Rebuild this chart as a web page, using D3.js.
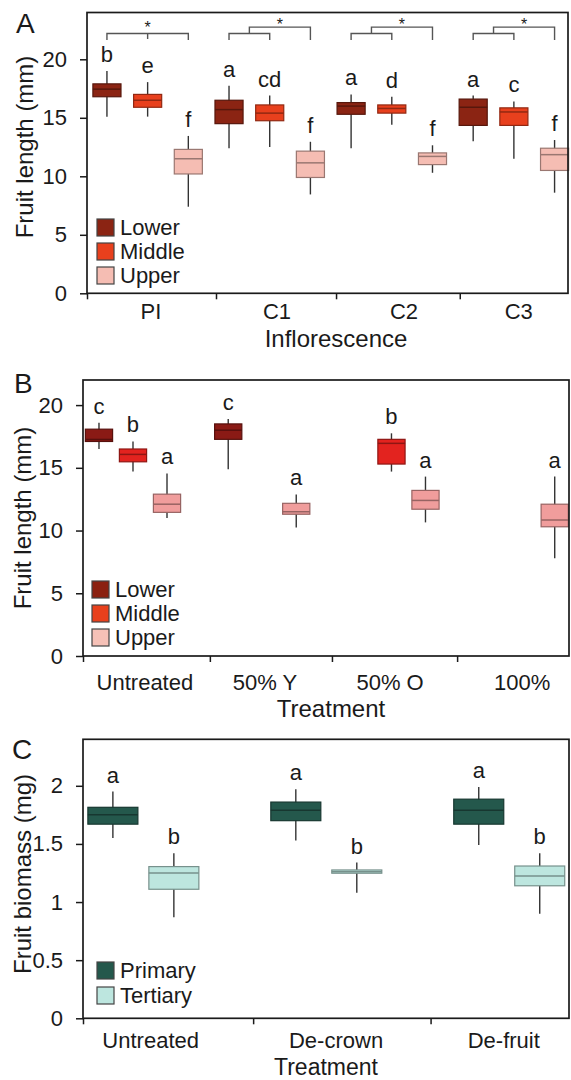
<!DOCTYPE html>
<html>
<head>
<meta charset="utf-8">
<script src="https://cdn.jsdelivr.net/npm/d3@7"></script>
<style>
  body { margin: 0; background: #fff; }
  text { font-family: 'Liberation Sans', Arial, sans-serif; fill: #1a1a1a; }
</style>
</head>
<body>
<svg id="chart" width="571" height="1080"></svg>
<script>
// Panel A: fruit length by inflorescence
const aGroups = ['PI', 'C1', 'C2', 'C3'];
const aSeries = ['Lower', 'Middle', 'Upper'];
// each box: [whisker low, q1, median, q3, whisker high]
const aLower  = [[15.1, 16.8, 17.45, 17.9, 19.0], [12.4, 14.5, 15.7, 16.5, 17.75], [12.4, 15.3, 16.0, 16.3, 17.0], [13.0, 14.35, 15.9, 16.6, 16.9]];
const aMiddle = [[15.1, 15.9, 16.5, 17.0, 18.05], [12.5, 14.75, 15.4, 16.1, 16.9], [14.4, 15.4, 15.8, 16.1, 16.8], [11.5, 14.35, 15.5, 15.85, 16.4]];
const aUpper  = [[7.4, 10.2, 11.5, 12.3, 13.45], [8.45, 9.9, 11.15, 12.15, 12.95], [10.3, 11.0, 11.7, 12.0, 12.65], [8.6, 10.5, 11.85, 12.4, 13.1]];
const aLetters = [['b', 'e', 'f'], ['a', 'cd', 'f'], ['a', 'd', 'f'], ['a', 'c', 'f']];
const aBrackets = ['single', 'nested', 'nested', 'nested'];
const aYTicks = [0, 5, 10, 15, 20];

// Panel B: fruit length by treatment
const bGroups = ['Untreated', '50% Y', '50% O', '100%'];
const bSeries = ['Lower', 'Middle', 'Upper'];
const bLower  = [[16.5, 17.1, 17.26, 18.08, 18.6], [14.88, 17.27, 18.0, 18.5, 18.9], null, null];
const bMiddle = [[14.7, 15.48, 16.07, 16.5, 17.1], null, [14.7, 15.3, 16.95, 17.27, 17.75], null];
const bUpper  = [[11.0, 11.45, 12.1, 12.9, 14.55], [10.25, 11.3, 11.5, 12.17, 12.88], [10.65, 11.7, 12.4, 13.2, 14.3], [7.8, 10.3, 10.84, 12.1, 14.3]];
const bLetters = [['c', 'b', 'a'], ['c', null, 'a'], [null, 'b', 'a'], [null, null, 'a']];
const bYTicks = [0, 5, 10, 15, 20];

// Panel C: fruit biomass by treatment
const cGroups = ['Untreated', 'De-crown', 'De-fruit'];
const cSeries = ['Primary', 'Tertiary'];
const cPrimary  = [[1.55, 1.67, 1.75, 1.815, 1.95], [1.53, 1.70, 1.79, 1.86, 1.97], [1.49, 1.67, 1.79, 1.885, 1.99]];
const cTertiary = [[0.87, 1.11, 1.25, 1.305, 1.42], [1.08, 1.248, 1.26, 1.276, 1.34], [0.90, 1.14, 1.225, 1.31, 1.42]];
const cLetters = [['a', 'b'], ['a', 'b'], ['a', 'b']];
const cYTicks = [0, 0.5, 1, 1.5, 2];

const svg = d3.select('#chart');

function drawPanel(p) {
    let x = d3.scaleLinear().domain(p.slotDomain).range([p.left, p.right]);
    let y = d3.scaleLinear().domain(p.yDomain).range([p.bottom, p.top]);
    let g = svg.append('g');

    // y axis
    let yAxis = g.append('g')
        .attr('transform', `translate(${p.left},0)`)
        .call(d3.axisLeft(y).tickValues(p.yTicks).tickSize(7).tickPadding(13).tickFormat(d3.format('~g')));
    yAxis.select('.domain').remove();
    yAxis.selectAll('line').attr('stroke', '#1a1a1a').attr('stroke-width', 1.5);
    yAxis.selectAll('text').attr('font-size', 22).attr('fill', '#1a1a1a');

    // x axis ticks (dividers between groups)
    let xAxis = g.append('g')
        .attr('transform', `translate(0,${p.bottom})`)
        .call(d3.axisBottom(x).tickValues([p.slotDomain[0]].concat(p.dividers)).tickSize(6).tickFormat(''));
    xAxis.select('.domain').remove();
    xAxis.selectAll('line').attr('stroke', '#1a1a1a').attr('stroke-width', 1.5);

    // category labels
    g.selectAll('.cat')
        .data(p.groups)
        .enter()
        .append('text')
        .attr('x', (d, i) => x(p.labelPos[i]))
        .attr('y', p.labelY)
        .attr('text-anchor', 'middle')
        .attr('font-size', 22)
        .text(d => d);

    // boxes
    let bw = x(p.boxW) - x(0);
    p.series.forEach((s, si) => {
        p.values[si].forEach((v, gi) => {
            if (!v) return;
            let cx = x(gi * p.groupStep + si);
            let fill = p.colors[si];
            let edge = d3.color(fill).darker(1.3).formatHex();
            g.append('line')
                .attr('x1', cx).attr('x2', cx)
                .attr('y1', y(v[0])).attr('y2', y(v[4]))
                .attr('stroke', '#333').attr('stroke-width', 1.4);
            g.append('rect')
                .attr('x', cx - bw / 2)
                .attr('y', y(v[3]))
                .attr('width', bw)
                .attr('height', y(v[1]) - y(v[3]))
                .attr('fill', fill)
                .attr('stroke', edge)
                .attr('stroke-width', 1.2);
            g.append('line')
                .attr('x1', cx - bw / 2).attr('x2', cx + bw / 2)
                .attr('y1', y(v[2])).attr('y2', y(v[2]))
                .attr('stroke', edge).attr('stroke-width', 1.5);
            let letter = p.letters[gi][si];
            if (letter) {
                g.append('text')
                    .attr('x', cx)
                    .attr('y', y(v[4]) - 9)
                    .attr('text-anchor', 'middle')
                    .attr('font-size', 22)
                    .text(letter);
            }
        });
    });

    // significance brackets
    if (p.brackets) {
        let lvIn = y(p.bracketLevels[0]), lvOut = y(p.bracketLevels[1]), lvDrop = y(p.bracketLevels[2]);
        let br = g.append('g').attr('fill', 'none').attr('stroke', '#555').attr('stroke-width', 1.4);
        p.brackets.forEach((type, gi) => {
            let s0 = x(gi * p.groupStep), s1 = x(gi * p.groupStep + 1), s2 = x(gi * p.groupStep + 2);
            let starX, starY;
            if (type === 'single') {
                br.append('path').attr('d', `M${s0},${lvDrop}V${lvIn}H${s2}V${lvDrop}M${s1},${lvIn}V${lvDrop - 1}`);
                starX = s1;
                starY = lvIn - 0.7;
            } else {
                let mid = (s0 + s1) / 2;
                br.append('path').attr('d', `M${s0},${lvDrop}V${lvIn}H${s1}V${lvDrop}M${mid},${lvIn}V${lvOut}H${s2}V${lvDrop}`);
                starX = (mid + s2) / 2;
                starY = lvOut + 3;
            }
            g.append('text')
                .attr('x', starX)
                .attr('y', starY)
                .attr('text-anchor', 'middle')
                .attr('font-size', 16)
                .text('*');
        });
    }

    // frame
    g.append('rect')
        .attr('x', p.left).attr('y', p.top)
        .attr('width', p.right - p.left).attr('height', p.bottom - p.top)
        .attr('fill', 'none').attr('stroke', '#1a1a1a').attr('stroke-width', 1.7);

    // legend
    p.series.forEach((s, si) => {
        let top = p.legend.top + si * p.legend.step;
        g.append('rect')
            .attr('x', p.legend.x).attr('y', top)
            .attr('width', 17).attr('height', 17)
            .attr('fill', p.legendColors[si])
            .attr('stroke', '#444').attr('stroke-width', 1.2);
        g.append('text')
            .attr('x', p.legend.x + 23)
            .attr('y', top + 16)
            .attr('font-size', 22)
            .text(s);
    });

    // titles
    g.append('text')
        .attr('x', p.xTitle[0]).attr('y', p.xTitle[1])
        .attr('text-anchor', 'middle')
        .attr('font-size', p.xTitleSize || 24)
        .text(p.xLabel);
    g.append('text')
        .attr('transform', `translate(${p.yTitle[0]},${p.yTitle[1]}) rotate(-90)`)
        .attr('text-anchor', 'middle')
        .attr('font-size', 24)
        .text(p.yLabel);
    g.append('text')
        .attr('x', p.tag[0]).attr('y', p.tag[1])
        .attr('font-size', 28)
        .text(p.tagText);
}

drawPanel({
    groups: aGroups, series: aSeries, values: [aLower, aMiddle, aUpper], letters: aLetters,
    colors: ['#8b2413', '#e8401d', '#f5bdb3'], legendColors: ['#8b2413', '#e8401d', '#f5bdb3'],
    left: 87, right: 568, top: 12.5, bottom: 293.3,
    yDomain: [0, 24], yTicks: aYTicks,
    slotDomain: [-0.49, 11.33], groupStep: 3, boxW: 0.69,
    dividers: [2.68, 5.63, 8.67], labelPos: [1.08, 4.18, 7.3, 10.12], labelY: 319,
    brackets: aBrackets, bracketLevels: [22.2, 22.75, 21.65],
    legend: { x: 97, top: 219, step: 24 },
    xLabel: 'Inflorescence', xTitle: [336, 347],
    yLabel: 'Fruit length (mm)', yTitle: [33, 147],
    tagText: 'A', tag: [16, 33]
});

drawPanel({
    groups: bGroups, series: bSeries, values: [bLower, bMiddle, bUpper], letters: bLetters,
    colors: ['#8a1a15', '#e3231f', '#f09d9c'], legendColors: ['#8b2010', '#e8401c', '#f6c1b7'],
    left: 83, right: 569, top: 380, bottom: 656,
    yDomain: [0, 22], yTicks: bYTicks,
    slotDomain: [-0.47, 13.82], groupStep: 3.8, boxW: 0.8,
    dividers: [3.26, 6.85, 10.53], labelPos: [1.35, 4.88, 8.56, 12.44], labelY: 690,
    legend: { x: 92, top: 581, step: 24 },
    xLabel: 'Treatment', xTitle: [331, 717],
    yLabel: 'Fruit length (mm)', yTitle: [31, 518],
    tagText: 'B', tag: [14, 393]
});

drawPanel({
    groups: cGroups, series: cSeries, values: [cPrimary, cTertiary], letters: cLetters,
    colors: ['#24584c', '#bde6df'], legendColors: ['#24584c', '#bde6df'],
    left: 83, right: 569, top: 739.3, bottom: 1018.3,
    yDomain: [0, 2.4], yTicks: cYTicks,
    slotDomain: [-0.49, 7.48], groupStep: 3, boxW: 0.82,
    dividers: [2.3, 5.21], labelPos: [0.62, 3.66, 6.41], labelY: 1048,
    legend: { x: 97, top: 962, step: 25 },
    xLabel: 'Treatment', xTitle: [326, 1075], xTitleSize: 23,
    yLabel: 'Fruit biomass (mg)', yTitle: [31, 874],
    tagText: 'C', tag: [12, 759]
});
</script>
</body>
</html>
